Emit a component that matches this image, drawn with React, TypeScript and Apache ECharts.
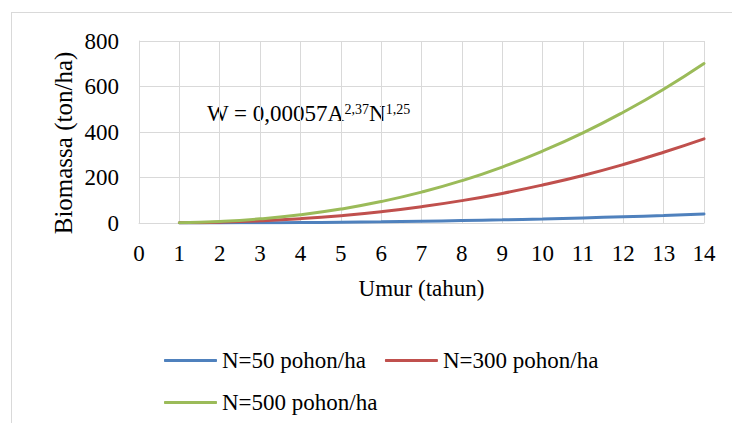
import React, { useEffect, useRef, useState } from "react";
import * as echarts from "echarts";

const ages = [1, 2, 3, 4, 5, 6, 7, 8, 9, 10, 11, 12, 13, 14];
const xTicks = [0, 1, 2, 3, 4, 5, 6, 7, 8, 9, 10, 11, 12, 13, 14];
const yTicks = [0, 200, 400, 600, 800];
const seriesNames = ["N=50 pohon/ha", "N=300 pohon/ha", "N=500 pohon/ha"];
const n50 = [0.08, 0.39, 1.02, 2.03, 3.44, 5.3, 7.63, 10.5, 13.8, 17.8, 22.3, 27.4, 33.1, 39.4];
const n300 = [0.71, 3.68, 9.6, 19.0, 32.3, 49.7, 71.6, 98.3, 130, 167, 209, 257, 311, 370];
const n500 = [1.35, 6.97, 18.2, 36.0, 61.1, 94.2, 135.7, 186, 246, 316, 396, 487, 588, 701];
const colors = ["#4F81BD", "#C0504D", "#9BBB59"];

const FONT = "Liberation Serif";

function forceSerif(root: HTMLElement | null) {
  if (!root) return;
  root.querySelectorAll("text, tspan").forEach((el) => {
    (el as SVGElement).style.setProperty("font-family", '"Liberation Serif", "Times New Roman", serif', "important");
    getComputedStyle(el).fontFamily;
  });
}

export default function App() {
  const ref = useRef<HTMLDivElement>(null);
  const [ready, setReady] = useState(false);
  useEffect(() => {
    if (!ref.current) return;
    document.body.style.margin = "0";
    const chart = echarts.init(ref.current, null, { renderer: "svg" });
    const allSeries = [n50, n300, n500];
    const legendBase = {
      icon: "roundRect",
      itemWidth: 53,
      itemHeight: 3,
      itemGap: 19,
      textStyle: { fontFamily: FONT, fontSize: 23, color: "#000" },
    };
    chart.setOption({
      animation: false,
      grid: { left: 139, right: 28, top: 41, bottom: 200 },
      xAxis: {
        type: "value",
        min: xTicks[0],
        max: xTicks[xTicks.length - 1],
        interval: 1,
        name: "Umur (tahun)",
        nameLocation: "middle",
        nameGap: 54,
        nameTextStyle: { fontFamily: FONT, fontSize: 23, color: "#000" },
        axisLine: { show: true, lineStyle: { color: "#d9d9d9", width: 1 } },
        axisTick: { show: false },
        splitLine: { show: true, lineStyle: { color: "#d9d9d9", width: 1 } },
        axisLabel: { fontFamily: FONT, fontSize: 23, color: "#000", margin: 19 },
      },
      yAxis: {
        type: "value",
        min: yTicks[0],
        max: yTicks[yTicks.length - 1],
        interval: 200,
        axisLine: { show: true, lineStyle: { color: "#d9d9d9", width: 1 } },
        axisTick: { show: false },
        splitLine: { show: true, lineStyle: { color: "#d9d9d9", width: 1 } },
        axisLabel: { fontFamily: FONT, fontSize: 23, color: "#000", margin: 20 },
      },
      legend: [
        { ...legendBase, left: 159, top: 344, data: [seriesNames[0], seriesNames[1]] },
        { ...legendBase, left: 159, top: 386, data: [seriesNames[2]] },
      ],
      series: allSeries.map((vals, i) => ({
        name: seriesNames[i],
        type: "line",
        smooth: true,
        symbol: "none",
        lineStyle: { color: colors[i], width: 3, cap: "round" },
        itemStyle: { color: colors[i] },
        data: ages.map((a, j) => [a, vals[j]]),
        z: 2 + i,
      })),
      graphic: [
        {
          type: "text",
          x: 63,
          y: 143,
          rotation: Math.PI / 2,
          style: {
            text: "Biomassa (ton/ha)",
            fontFamily: FONT,
            fontSize: 25,
            fill: "#000",
            align: "center",
            verticalAlign: "middle",
          },
        },
        {
          type: "text",
          x: 207,
          y: 102,
          style: {
            text: "{m|W = 0,00057A}{s|2,37}{m|N}{s|1,25}",
            fill: "#000",
            align: "left",
            verticalAlign: "top",
            rich: {
              m: { fontFamily: FONT, fontSize: 23, lineHeight: 23, fill: "#000", verticalAlign: "top" },
              s: { fontFamily: FONT, fontSize: 14, lineHeight: 14, fill: "#000", verticalAlign: "top" },
            },
          },
        },
      ],
    });
    forceSerif(ref.current);
    chart.on("finished", () => forceSerif(ref.current));
    setReady(true);
    return () => chart.dispose();
  }, []);
  useEffect(() => {
    forceSerif(ref.current);
  }, [ready]);
  return (
    <div style={{ position: "relative", width: 732, height: 423, overflow: "hidden", background: "#fff" }}>
      <div
        style={{
          position: "absolute",
          left: 11,
          top: 12,
          width: 760,
          height: 460,
          border: "1px solid #d9d9d9",
          boxSizing: "border-box",
        }}
      />
      <div ref={ref} style={{ position: "absolute", left: 0, top: 0, width: 732, height: 423 }} />
    </div>
  );
}
